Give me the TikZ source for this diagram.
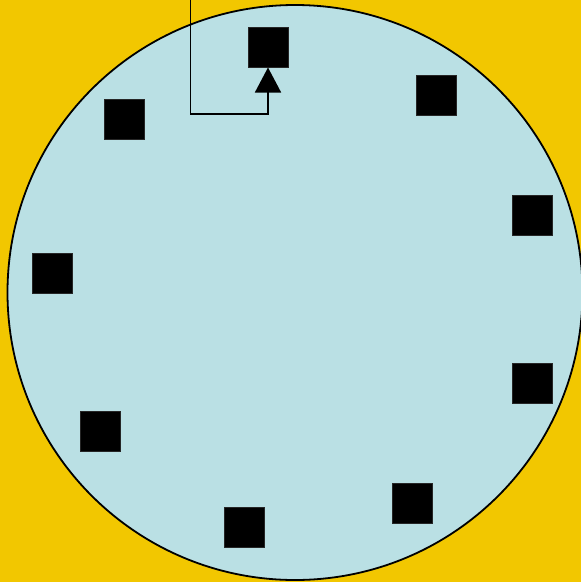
\documentclass[tikz,border=0pt]{standalone}
\usetikzlibrary{arrows.meta}
\definecolor{bgyellow}{HTML}{F2C700}
\definecolor{dialblue}{HTML}{BAE0E4}
\tikzset{
  mark box/.style={draw=black!85, line width=0.6pt, fill=black, minimum size=40pt, inner sep=0pt, outer sep=0pt},
  pointer/.style={line width=1.6pt, -{Triangle[width=26pt,length=25pt]}, line join=miter}
}
\begin{document}
\begin{tikzpicture}[x=1pt,y=-1pt]
\fill[bgyellow] (0,0) rectangle (581,582);
\useasboundingbox (0,0) rectangle (581,582);
\node[circle, draw=black, line width=1.8pt, fill=dialblue, minimum size=575pt, inner sep=0pt] (dial) at (295,292.5) {};
\node[mark box] (s1) at (268,47.5) {};
\node[mark box] (s2) at (436,95.5) {};
\node[mark box] (s3) at (532,215.5) {};
\node[mark box] (s4) at (532,383.5) {};
\node[mark box] (s5) at (412,503.5) {};
\node[mark box] (s6) at (244,527.5) {};
\node[mark box] (s7) at (100,431.5) {};
\node[mark box] (s8) at (52,273.5) {};
\node[mark box] (s9) at (124,119.5) {};
\coordinate (start) at (190.5,-2);
\coordinate (bend) at (268,114);
\draw[pointer] (start) |- (bend) -- (s1.south);
\end{tikzpicture}
\end{document}
